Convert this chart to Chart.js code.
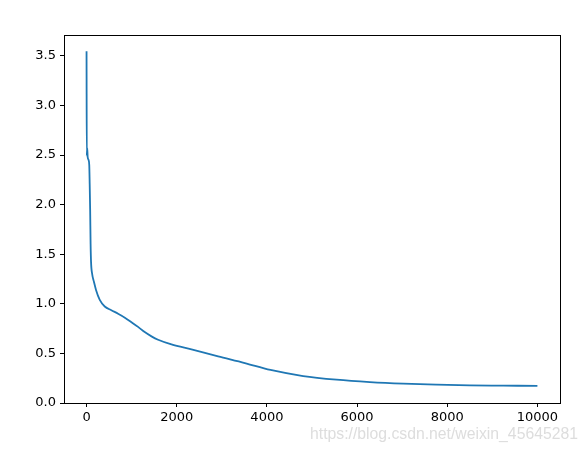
<!DOCTYPE html>
<html>
<head>
<meta charset="utf-8">
<script src="https://cdn.jsdelivr.net/npm/chart.js@4/dist/chart.umd.min.js"></script>
<style>
  html, body { margin: 0; padding: 0; background: #fff; }
  #wrap { width: 588px; height: 451px; position: relative; }
</style>
</head>
<body>
<div id="wrap"><canvas id="c" width="588" height="451"></canvas></div>
<script>
// Data (training step vs loss)
const steps = [0, 5, 15, 25, 45, 60, 70, 80, 90, 100, 125, 165, 210, 293, 404, 550, 700, 850, 995, 1150, 1290, 1440, 1587, 1883, 2327, 2918, 3510, 4080, 4804, 5544, 6284, 7023, 7763, 8502, 9241, 9999];
const loss  = [3.545, 2.49, 2.57, 2.48, 2.45, 2.40, 2.20, 1.95, 1.60, 1.42, 1.30, 1.22, 1.14, 1.04, 0.973, 0.935, 0.90, 0.86, 0.815, 0.765, 0.715, 0.672, 0.638, 0.591, 0.54, 0.47, 0.403, 0.333, 0.272, 0.235, 0.211, 0.195, 0.185, 0.178, 0.175, 0.172];
const xTicks = [0, 2000, 4000, 6000, 8000, 10000];
const yTicks = [0.0, 0.5, 1.0, 1.5, 2.0, 2.5, 3.0, 3.5];
const watermark = "https://blog.csdn.net/weixin_45645281";

const points = steps.map((s, i) => ({ x: s, y: loss[i] }));

const frame = {
  id: 'frame',
  afterDraw(chart) {
    const { ctx, chartArea: a } = chart;
    ctx.save();
    ctx.strokeStyle = '#000';
    ctx.lineWidth = 1;
    ctx.strokeRect(Math.round(a.left) + 0.5, Math.round(a.top) + 0.5, Math.round(a.right - a.left), Math.round(a.bottom - a.top));
    // watermark
    ctx.font = '18px "Liberation Sans", Arial, sans-serif';
    const w = ctx.measureText(watermark).width;
    const target = 268;
    const size = 18 * target / w;
    ctx.font = size.toFixed(2) + 'px "Liberation Sans", Arial, sans-serif';
    ctx.fillStyle = 'rgba(215,215,215,0.85)';
    ctx.textBaseline = 'alphabetic';
    ctx.textAlign = 'left';
    ctx.fillText(watermark, 310, 439);
    ctx.restore();
  }
};

new Chart(document.getElementById('c'), {
  type: 'line',
  data: {
    datasets: [{
      data: points,
      borderColor: '#1f77b4',
      borderWidth: 1.8,
      pointRadius: 0,
      cubicInterpolationMode: 'monotone',
      fill: false
    }]
  },
  options: {
    responsive: false,
    animation: false,
    layout: { padding: { left: 0, right: 28, top: 35, bottom: 0 } },
    plugins: { legend: { display: false }, tooltip: { enabled: false } },
    scales: {
      x: {
        type: 'linear',
        min: -500,
        max: 10500,
        afterFit(s) { s.height = 48; },
        afterBuildTicks(s) { s.ticks = xTicks.map(v => ({ value: v })); },
        border: { display: false },
        grid: { display: true, drawOnChartArea: false, tickLength: 4, tickColor: '#000', lineWidth: 1 },
        ticks: {
          color: '#000',
          padding: 3,
          font: { family: '"DejaVu Sans"', size: 13 },
          maxRotation: 0,
          callback: v => String(v)
        }
      },
      y: {
        type: 'linear',
        min: 0,
        max: 3.71,
        afterFit(s) { s.width = 64; },
        afterBuildTicks(s) { s.ticks = yTicks.map(v => ({ value: v })); },
        border: { display: false },
        grid: { display: true, drawOnChartArea: false, tickLength: 4, tickColor: '#000', lineWidth: 1 },
        ticks: {
          color: '#000',
          padding: 4,
          font: { family: '"DejaVu Sans"', size: 13 },
          callback: v => v.toFixed(1)
        }
      }
    }
  },
  plugins: [frame]
});
</script>
</body>
</html>
